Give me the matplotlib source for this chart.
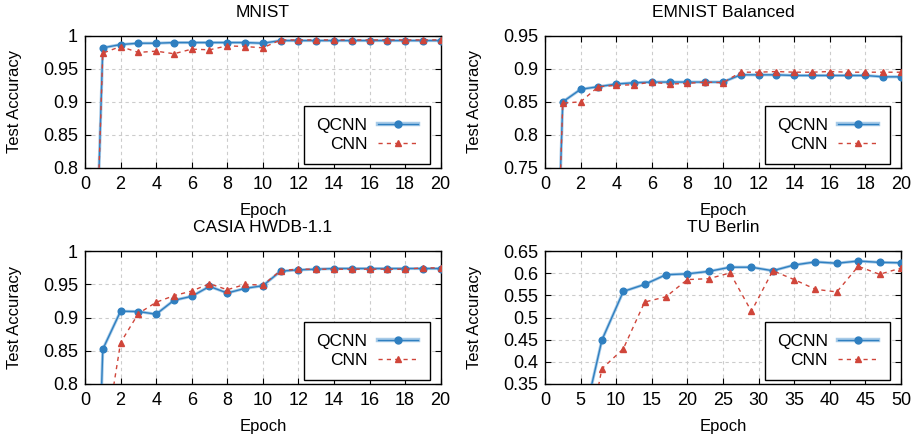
import numpy as np
import matplotlib
matplotlib.use("Agg")
import matplotlib.pyplot as plt

plt.rcParams['font.family'] = ['Liberation Sans', 'DejaVu Sans']

# epochs
ep20 = list(range(0, 21))
ep_tu = [5, 8, 11, 14, 17, 20, 23, 26, 29, 32, 35, 38, 41, 44, 47, 50]

# MNIST
mnist_qcnn = [0.11, 0.982, 0.987, 0.989, 0.989, 0.990, 0.990, 0.990, 0.990, 0.990, 0.989,
              0.993, 0.993, 0.993, 0.993, 0.993, 0.993, 0.993, 0.993, 0.993, 0.993]
mnist_cnn = [0.14, 0.974, 0.984, 0.975, 0.977, 0.973, 0.980, 0.979, 0.985, 0.984, 0.982,
             0.994, 0.994, 0.994, 0.994, 0.994, 0.994, 0.994, 0.994, 0.994, 0.994]

# EMNIST Balanced
emnist_qcnn = [0.021, 0.850, 0.869, 0.873, 0.877, 0.879, 0.880, 0.880, 0.880, 0.880, 0.880,
               0.891, 0.891, 0.891, 0.890, 0.890, 0.890, 0.890, 0.890, 0.888, 0.888]
emnist_cnn = [0.021, 0.848, 0.850, 0.873, 0.875, 0.876, 0.880, 0.877, 0.878, 0.880, 0.879,
              0.895, 0.895, 0.896, 0.895, 0.895, 0.896, 0.895, 0.895, 0.895, 0.895]

# CASIA HWDB-1.1
casia_qcnn = [0.0, 0.852, 0.9095, 0.909, 0.905, 0.926, 0.932, 0.947, 0.937, 0.944, 0.948,
              0.970, 0.972, 0.973, 0.974, 0.974, 0.974, 0.974, 0.974, 0.974, 0.974]
casia_cnn = [0.0, 0.694, 0.862, 0.906, 0.923, 0.933, 0.940, 0.951, 0.942, 0.950, 0.949,
             0.971, 0.973, 0.973, 0.973, 0.973, 0.973, 0.973, 0.973, 0.975, 0.975]

# TU Berlin
tu_qcnn = [0.237, 0.449, 0.559, 0.575, 0.597, 0.599, 0.6045, 0.614, 0.614, 0.606,
           0.619, 0.626, 0.623, 0.628, 0.625, 0.624]
tu_cnn = [0.141, 0.384, 0.429, 0.535, 0.547, 0.586, 0.588, 0.601, 0.514, 0.606,
          0.586, 0.564, 0.558, 0.616, 0.598, 0.612]

panels = [
    ("MNIST", ep20, mnist_qcnn, mnist_cnn, (0, 20), np.arange(0, 21, 2), (0.8, 1.0), [0.8, 0.85, 0.9, 0.95, 1.0], ["0.8", "0.85", "0.9", "0.95", "1"]),
    ("EMNIST Balanced", ep20, emnist_qcnn, emnist_cnn, (0, 20), np.arange(0, 21, 2), (0.75, 0.95), [0.75, 0.8, 0.85, 0.9, 0.95], ["0.75", "0.8", "0.85", "0.9", "0.95"]),
    ("CASIA HWDB-1.1", ep20, casia_qcnn, casia_cnn, (0, 20), np.arange(0, 21, 2), (0.8, 1.0), [0.8, 0.85, 0.9, 0.95, 1.0], ["0.8", "0.85", "0.9", "0.95", "1"]),
    ("TU Berlin", ep_tu, tu_qcnn, tu_cnn, (0, 50), np.arange(0, 51, 5), (0.35, 0.65), [0.35, 0.4, 0.45, 0.5, 0.55, 0.6, 0.65], ["0.35", "0.4", "0.45", "0.5", "0.55", "0.6", "0.65"]),
]

rects = [
    [0.0929, 0.6136, 0.3887, 0.3035],
    [0.5956, 0.6136, 0.3890, 0.3035],
    [0.0929, 0.1159, 0.3887, 0.3050],
    [0.5956, 0.1159, 0.3890, 0.3050],
]

blue = '#2f7fc0'
halo = '#a8cbe8'
red = '#d0453a'

fig = plt.figure(figsize=(9.15, 4.34), dpi=100)

for (title, x, q, c, xl, xt, yl, yt, ytl), r in zip(panels, rects):
    ax = fig.add_axes(r)
    ax.plot(x, q, color=halo, lw=2.2, zorder=2)
    ax.plot(x, q, color=blue, lw=1.0, marker='o', ms=4.8, zorder=3)
    ax.plot(x, c, color=red, lw=1.0, ls=(0, (3, 3)), marker='^', ms=4.2, zorder=4)
    # legend proxies
    hq = (plt.Line2D([], [], color=halo, lw=3.2),
          plt.Line2D([], [], color=blue, lw=1.0, marker='o', ms=5))
    hc = plt.Line2D([], [], color=red, lw=1.0, ls=(0, (3, 3)), marker='^', ms=4.5)
    leg = ax.legend([hq, hc], ["QCNN", "CNN"], loc='lower right',
                    bbox_to_anchor=(0.970, 0.028), borderaxespad=0,
                    markerfirst=False, fancybox=False, framealpha=1,
                    edgecolor='black', fontsize=12.5, handlelength=2.3,
                    labelspacing=0.2, borderpad=0.7, handletextpad=0.6)
    leg.get_frame().set_linewidth(1.0)
    ax.set_xlim(*xl)
    ax.set_ylim(*yl)
    ax.set_xticks(xt)
    ax.set_yticks(yt)
    ax.set_yticklabels(ytl)
    ax.grid(True, color='#cccccc', ls=(0, (3, 3)), lw=0.8)
    ax.set_axisbelow(True)
    ax.tick_params(direction='in', top=True, right=True, labelsize=13, length=4)
    ax.tick_params(axis='x', pad=6)
    ax.tick_params(axis='y', pad=5)
    for s in ax.spines.values():
        s.set_linewidth(1.0)
    ax.set_title(title, fontsize=12.5, pad=14)
    ax.set_xlabel("Epoch", fontsize=12, labelpad=7)
    ax.set_ylabel("Test Accuracy", fontsize=12, labelpad=15)

fig.savefig("out.png", dpi=100)
